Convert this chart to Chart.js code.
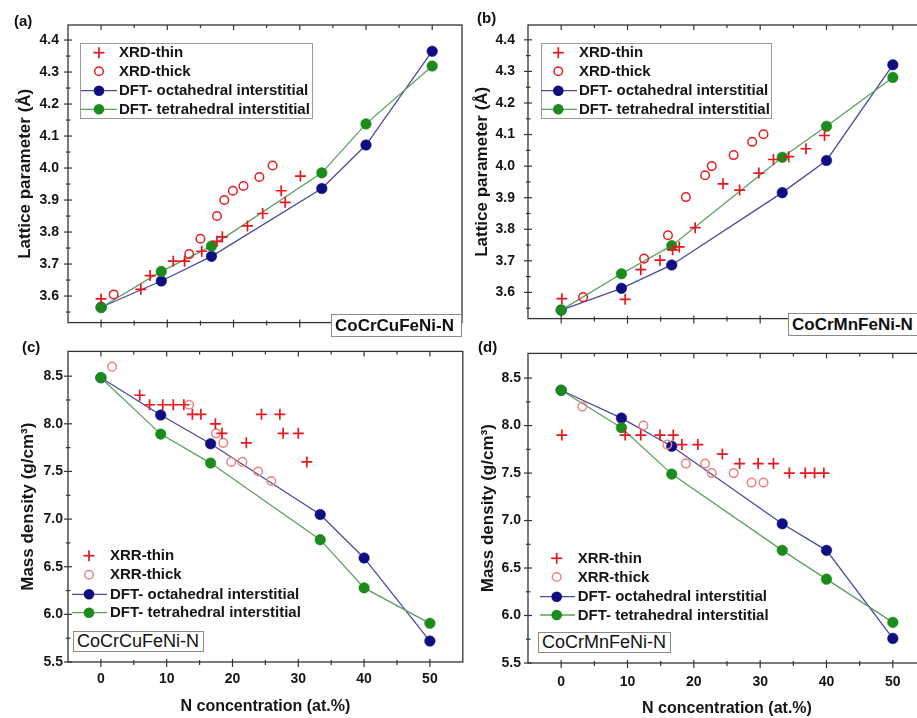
<!DOCTYPE html>
<html><head><meta charset="utf-8">
<script src="https://cdn.jsdelivr.net/npm/chart.js@4"></script>
<style>
html,body{margin:0;padding:0;width:917px;height:718px;overflow:hidden;background:#fff;}
body{position:relative;font-family:"Liberation Sans",Arial,sans-serif;}
canvas{position:absolute;}
.lbl{position:absolute;border:1px solid #8a8a8a;background:#fff;color:#111;white-space:nowrap;box-sizing:border-box;padding-left:3px;}
.pl{position:absolute;font:bold 15px/18px "Liberation Sans",Arial,sans-serif;color:#111;}
</style></head>
<body>
<canvas id="ca" width="470" height="340" style="left:0;top:0"></canvas>
<canvas id="cb" width="470" height="340" style="left:470px;top:0"></canvas>
<canvas id="cc" width="470" height="380" style="left:0;top:338px"></canvas>
<canvas id="cd" width="470" height="380" style="left:470px;top:338px"></canvas>
<div class="pl" style="left:14px;top:12px">(a)</div>
<div class="pl" style="left:477px;top:9px">(b)</div>
<div class="pl" style="left:22px;top:338px">(c)</div>
<div class="pl" style="left:478px;top:338px">(d)</div>
<div class="lbl" style="left:331px;top:314px;width:131px;height:23px;font:bold 17px/21px 'Liberation Sans',Arial,sans-serif">CoCrCuFeNi-N</div>
<div class="lbl" style="left:788px;top:313px;width:140px;height:23px;font:bold 17px/21px 'Liberation Sans',Arial,sans-serif">CoCrMnFeNi-N</div>
<div class="lbl" style="left:73px;top:631px;width:131px;height:21px;font:18px/19px 'Liberation Sans',Arial,sans-serif">CoCrCuFeNi-N</div>
<div class="lbl" style="left:538px;top:632px;width:133px;height:21px;font:18px/19px 'Liberation Sans',Arial,sans-serif">CoCrMnFeNi-N</div>
<script>
// ---- tick values ----
const xTicks = [0, 10, 20, 30, 40, 50];
const xMinor = [5, 15, 25, 35, 45];
const latTicks = [3.6, 3.7, 3.8, 3.9, 4.0, 4.1, 4.2, 4.3, 4.4];
const latMinor = [3.55, 3.65, 3.75, 3.85, 3.95, 4.05, 4.15, 4.25, 4.35];
const denTicks = [5.5, 6.0, 6.5, 7.0, 7.5, 8.0, 8.5];
const denMinor = [5.75, 6.25, 6.75, 7.25, 7.75, 8.25];

// ---- legend labels ----
const labelsXRD = ['XRD-thin', 'XRD-thick', 'DFT- octahedral interstitial', 'DFT- tetrahedral interstitial'];
const labelsXRR = ['XRR-thin', 'XRR-thick', 'DFT- octahedral interstitial', 'DFT- tetrahedral interstitial'];

// ---- DFT N concentrations (at.%) ----
const dftN = [0, 9.09, 16.67, 33.33, 40, 50];

// ---- (a) CoCrCuFeNi-N lattice parameter ----
const aThinX = [0, 6.0, 7.4, 10.9, 12.6, 15.2, 17.5, 18.3, 22.1, 24.4, 27.2, 27.8, 30.1];
const aThinY = [3.591, 3.621, 3.664, 3.709, 3.709, 3.740, 3.771, 3.785, 3.819, 3.858, 3.929, 3.893, 3.975];
const aThickX = [1.9, 13.3, 15.0, 17.5, 18.6, 19.9, 21.5, 23.9, 25.9];
const aThickY = [3.605, 3.731, 3.779, 3.850, 3.900, 3.929, 3.944, 3.972, 4.008];
const aOct = [3.565, 3.647, 3.724, 3.936, 4.072, 4.365];
const aTet = [3.564, 3.677, 3.756, 3.985, 4.138, 4.319];

// ---- (b) CoCrMnFeNi-N lattice parameter ----
const bThinX = [0.1, 9.65, 12.0, 14.9, 16.8, 17.8, 20.2, 24.4, 26.9, 29.8, 32.0, 34.3, 36.9, 39.7];
const bThinY = [3.580, 3.578, 3.672, 3.702, 3.735, 3.744, 3.805, 3.944, 3.924, 3.978, 4.021, 4.030, 4.055, 4.097];
const bThickX = [3.3, 12.5, 16.1, 18.8, 21.7, 22.7, 26.0, 28.8, 30.5];
const bThickY = [3.585, 3.707, 3.781, 3.902, 3.971, 4.000, 4.035, 4.077, 4.101];
const bOct = [3.544, 3.613, 3.687, 3.916, 4.018, 4.321];
const bTet = [3.544, 3.659, 3.748, 4.028, 4.126, 4.281];

// ---- (c) CoCrCuFeNi-N mass density ----
const cThinX = [5.9, 7.4, 9.4, 11.0, 12.6, 13.9, 15.2, 17.4, 18.4, 22.1, 24.4, 27.2, 27.7, 30.0, 31.3];
const cThinY = [8.3, 8.2, 8.2, 8.2, 8.2, 8.1, 8.1, 8.0, 7.9, 7.8, 8.1, 8.1, 7.9, 7.9, 7.6];
const cThickX = [1.7, 13.4, 17.5, 18.6, 19.8, 21.5, 23.9, 25.9];
const cThickY = [8.6, 8.2, 7.9, 7.8, 7.6, 7.6, 7.5, 7.4];
const cOct = [8.484, 8.092, 7.791, 7.048, 6.592, 5.720];
const cTet = [8.484, 7.892, 7.588, 6.784, 6.278, 5.906];

// ---- (d) CoCrMnFeNi-N mass density ----
const dThinX = [0.1, 9.65, 12.0, 14.9, 16.9, 18.2, 20.6, 24.3, 26.9, 29.7, 32.0, 34.4, 36.8, 38.2, 39.6];
const dThinY = [7.9, 7.9, 7.9, 7.9, 7.9, 7.8, 7.8, 7.7, 7.6, 7.6, 7.6, 7.5, 7.5, 7.5, 7.5];
const dThickX = [3.2, 12.4, 16.0, 18.8, 21.7, 22.7, 26.0, 28.7, 30.5];
const dThickY = [8.2, 8.0, 7.8, 7.6, 7.6, 7.5, 7.5, 7.4, 7.4];
const dOct = [8.372, 8.079, 7.782, 6.966, 6.686, 5.759];
const dTet = [8.372, 7.978, 7.489, 6.686, 6.383, 5.928];

// ---- styling ----
const FONT = '"Liberation Sans", Arial, sans-serif';
const RED = '#e8161e';
const NAVY = '#0e0e82';
const NAVY_LINE = '#4a4a9e';
const GREEN = '#1b8c1b';
const GREEN_LINE = '#5f9f5f';

const pts = (xs, ys) => xs.map((v, i) => ({x: v, y: ys[i]}));

function makeDatasets(labels, thinX, thinY, thickX, thickY, oct, tet, thickColor) {
  return [
    {label: labels[0], data: pts(thinX, thinY), pointStyle: 'cross', pointRadius: 5.5,
     pointBorderColor: RED, pointBorderWidth: 1.7, borderColor: RED, showLine: false, order: 0, clip: false},
    {label: labels[1], data: pts(thickX, thickY), pointStyle: 'circle', pointRadius: 4.3,
     pointBorderColor: thickColor, pointBackgroundColor: 'rgba(255,255,255,0)', pointBorderWidth: 1.5,
     borderColor: thickColor, showLine: false, order: 1, clip: false},
    {label: labels[2], data: pts(dftN, oct), showLine: true, borderColor: NAVY_LINE, borderWidth: 1.3,
     pointRadius: 5.3, pointBackgroundColor: NAVY, pointBorderColor: NAVY, pointBorderWidth: 0.5, order: 3, clip: false},
    {label: labels[3], data: pts(dftN, tet), showLine: true, borderColor: GREEN_LINE, borderWidth: 1.3,
     pointRadius: 5.3, pointBackgroundColor: GREEN, pointBorderColor: GREEN, pointBorderWidth: 0.5, order: 2, clip: false}
  ];
}

const decor = {
  id: 'decor',
  afterDraw(chart, args, o) {
    const {ctx, chartArea: a, scales: {x, y}} = chart;
    ctx.save();
    ctx.strokeStyle = '#333';
    ctx.lineWidth = 1.3;
    ctx.strokeRect(a.left, a.top, a.right - a.left, a.bottom - a.top);
    const seg = (x0, y0, x1, y1) => { ctx.beginPath(); ctx.moveTo(x0, y0); ctx.lineTo(x1, y1); ctx.stroke(); };
    ctx.lineWidth = 1.2;
    xTicks.forEach(v => { const p = x.getPixelForValue(v); seg(p, a.top, p, a.top + 5); seg(p, a.bottom - 3, p, a.bottom + 5); });
    xMinor.forEach(v => { const p = x.getPixelForValue(v); seg(p, a.top, p, a.top + 3); seg(p, a.bottom - 2, p, a.bottom + 3); });
    o.yMajor.forEach(v => { const p = y.getPixelForValue(v); seg(a.left - 4, p, a.left + 4, p); });
    o.yMinor.forEach(v => { const p = y.getPixelForValue(v); seg(a.left - 2, p, a.left + 2.5, p); });
    // legend
    const L = o.legend;
    if (L.box) {
      ctx.strokeStyle = '#9a9a9a'; ctx.lineWidth = 1;
      ctx.strokeRect(L.box[0] + 0.5, L.box[1] + 0.5, L.box[2] - L.box[0], L.box[3] - L.box[1]);
    }
    ctx.font = 'bold 15px ' + FONT;
    ctx.textBaseline = 'middle';
    ctx.textAlign = 'left';
    chart.data.datasets.forEach((ds, i) => {
      const yy = L.rows[i];
      if (ds.showLine) {
        ctx.strokeStyle = ds.borderColor; ctx.lineWidth = 1.3;
        seg(L.lx0, yy, L.lx1, yy);
        ctx.fillStyle = ds.pointBackgroundColor;
        ctx.beginPath(); ctx.arc(L.sx, yy, 5.3, 0, Math.PI * 2); ctx.fill();
      } else if (ds.pointStyle === 'cross') {
        ctx.strokeStyle = ds.pointBorderColor; ctx.lineWidth = 1.7;
        seg(L.sx - 5.5, yy, L.sx + 5.5, yy); seg(L.sx, yy - 5.5, L.sx, yy + 5.5);
      } else {
        ctx.strokeStyle = ds.pointBorderColor; ctx.lineWidth = 1.5;
        ctx.beginPath(); ctx.arc(L.sx, yy, 4.3, 0, Math.PI * 2); ctx.stroke();
      }
      ctx.fillStyle = '#151515';
      ctx.fillText(ds.label, L.tx, yy + 0.5);
    });
    ctx.restore();
  }
};

function makeChart(id, cfg) {
  const tickFont = {family: FONT, size: 14, weight: 'bold'};
  return new Chart(document.getElementById(id), {
    type: 'scatter',
    data: {datasets: cfg.datasets},
    options: {
      responsive: false,
      animation: false,
      events: [],
      layout: {padding: {left: 0, top: cfg.padTop, right: cfg.padRight, bottom: 0}},
      plugins: {
        legend: {display: false},
        tooltip: {enabled: false},
        decor: {yMajor: cfg.yTicks, yMinor: cfg.yMinor, legend: cfg.legend}
      },
      scales: {
        x: {
          type: 'linear', min: cfg.xMin, max: cfg.xMax,
          grid: {display: false, drawTicks: false},
          border: {display: false},
          afterBuildTicks: s => { s.ticks = xTicks.map(v => ({value: v})); },
          ticks: {display: cfg.showX, font: tickFont, color: '#151515', padding: cfg.xPad, maxRotation: 0},
          title: {display: cfg.showX, text: 'N concentration (at.%)', color: '#151515',
                  font: {family: FONT, size: 16, weight: 'bold'}, padding: {top: 0, bottom: cfg.xTitlePad}},
          afterFit: s => { s.height = cfg.xHeight; }
        },
        y: {
          type: 'linear', min: cfg.yMin, max: cfg.yMax,
          grid: {display: false, drawTicks: false},
          border: {display: false},
          afterBuildTicks: s => { s.ticks = cfg.yTicks.map(v => ({value: v})); },
          ticks: {font: tickFont, color: '#151515', padding: cfg.yPad, callback: v => Number(v).toFixed(1)},
          title: {display: true, text: cfg.yTitle, color: '#151515',
                  font: {family: FONT, size: 17, weight: 'bold'}, padding: {top: cfg.yTitlePad, bottom: 0}},
          afterFit: s => { s.width = cfg.yWidth; }
        }
      }
    },
    plugins: [decor]
  });
}

makeChart('ca', {
  datasets: makeDatasets(labelsXRD, aThinX, aThinY, aThickX, aThickY, aOct, aTet, '#e41e24'),
  padTop: 25, padRight: 8, xMin: -5, xMax: 54.5, yMin: 3.517, yMax: 4.447,
  yTicks: latTicks, yMinor: latMinor, showX: false, xHeight: 1, xPad: 0, xTitlePad: 0,
  yPad: 9, yWidth: 68, yTitle: 'Lattice parameter (Å)', yTitlePad: 15,
  legend: {sx: 99, lx0: 81, lx1: 117, tx: 119, rows: [52.7, 71.3, 90.7, 109.3], box: [80, 43, 312, 118]}
});
makeChart('cb', {
  datasets: makeDatasets(labelsXRD, bThinX, bThinY, bThickX, bThickY, bOct, bTet, '#e41e24'),
  padTop: 25, padRight: 14, xMin: -5, xMax: 55, yMin: 3.517, yMax: 4.447,
  yTicks: latTicks, yMinor: latMinor, showX: false, xHeight: 1, xPad: 0, xTitlePad: 0,
  yPad: 13, yWidth: 58, yTitle: 'Lattice parameter (Å)', yTitlePad: 2,
  legend: {sx: 88.3, lx0: 71, lx1: 107, tx: 109, rows: [52.7, 71.3, 90.7, 109.3], box: [71, 43, 301, 118]}
});
makeChart('cc', {
  datasets: makeDatasets(labelsXRR, cThinX, cThinY, cThickX, cThickY, cOct, cTet, '#e98585'),
  padTop: 2, padRight: 5, xMin: -5, xMax: 55, yMin: 5.5, yMax: 8.76,
  yTicks: denTicks, yMinor: denMinor, showX: true, xHeight: 56, xPad: 9, xTitlePad: 2,
  yPad: 5, yWidth: 68, yTitle: 'Mass density (g/cm³)', yTitlePad: 18,
  legend: {sx: 89, lx0: 72, lx1: 107, tx: 110, rows: [217.7, 236.7, 256.3, 274.7], box: null}
});
makeChart('cd', {
  datasets: makeDatasets(labelsXRR, dThinX, dThinY, dThickX, dThickY, dOct, dTet, '#e98585'),
  padTop: 3, padRight: 14, xMin: -5, xMax: 55, yMin: 5.5, yMax: 8.76,
  yTicks: denTicks, yMinor: denMinor, showX: true, xHeight: 55, xPad: 11, xTitlePad: 0,
  yPad: 7, yWidth: 58, yTitle: 'Mass density (g/cm³)', yTitlePad: 8,
  legend: {sx: 86.7, lx0: 70, lx1: 105, tx: 107.7, rows: [220.3, 239, 258.7, 277], box: null}
});
</script>
</body></html>
